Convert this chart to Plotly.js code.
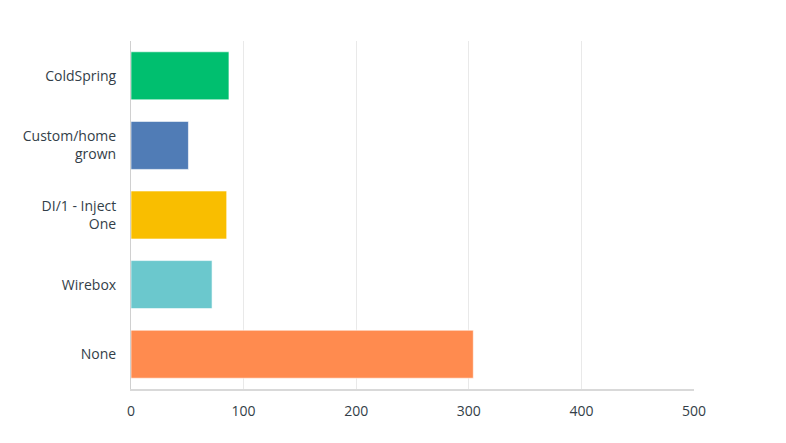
<!DOCTYPE html>
<html>
<head>
<meta charset="utf-8">
<script src="https://cdn.plot.ly/plotly-3.0.1.min.js"></script>
<style>html,body{margin:0;padding:0;background:#fff;}#chart{width:786px;height:443px;}</style>
</head>
<body>
<div id="chart"></div>
<script>
var categories = ["ColdSpring", "Custom/home<br>grown", "DI/1 - Inject<br>One", "Wirebox", "None"];
var values = [87, 51, 85, 72, 304];
var colors = ["#00bf6f", "#507cb6", "#f9be00", "#6bc8cd", "#ff8b4f"];
var tickVals = [0, 100, 200, 300, 400, 500];
var tickText = ["0", "100", "200", "300", "400", "500"];

var trace = {
  type: "bar",
  orientation: "h",
  x: values,
  y: categories,
  marker: {color: colors, line: {color: "rgba(255,255,255,0.6)", width: 1}},
  hoverinfo: "x+y"
};

var layout = {
  width: 786,
  height: 443,
  margin: {l: 131, r: 92, t: 41, b: 54, pad: 0},
  paper_bgcolor: "#ffffff",
  plot_bgcolor: "#ffffff",
  showlegend: false,
  bargap: 0.31,
  font: {family: "Open Sans, sans-serif", size: 14, color: "#333e48"},
  xaxis: {
    range: [0, 500],
    tickvals: tickVals,
    ticktext: tickText,
    showgrid: true,
    gridcolor: "#e9e9e9",
    gridwidth: 1,
    zeroline: false,
    showline: true,
    linecolor: "#d9d9d9",
    linewidth: 2,
    ticks: "",
    ticklabelstandoff: 8,
    tickfont: {size: 14, color: "#333e48"},
    fixedrange: true
  },
  yaxis: {
    autorange: "reversed",
    showgrid: false,
    zeroline: false,
    showline: true,
    linecolor: "#d0d0d0",
    linewidth: 1,
    ticks: "",
    ticklabelstandoff: 11,
    tickfont: {size: 14, color: "#333e48"},
    fixedrange: true
  }
};

Plotly.newPlot("chart", [trace], layout, {displayModeBar: false, staticPlot: true});
</script>
</body>
</html>
